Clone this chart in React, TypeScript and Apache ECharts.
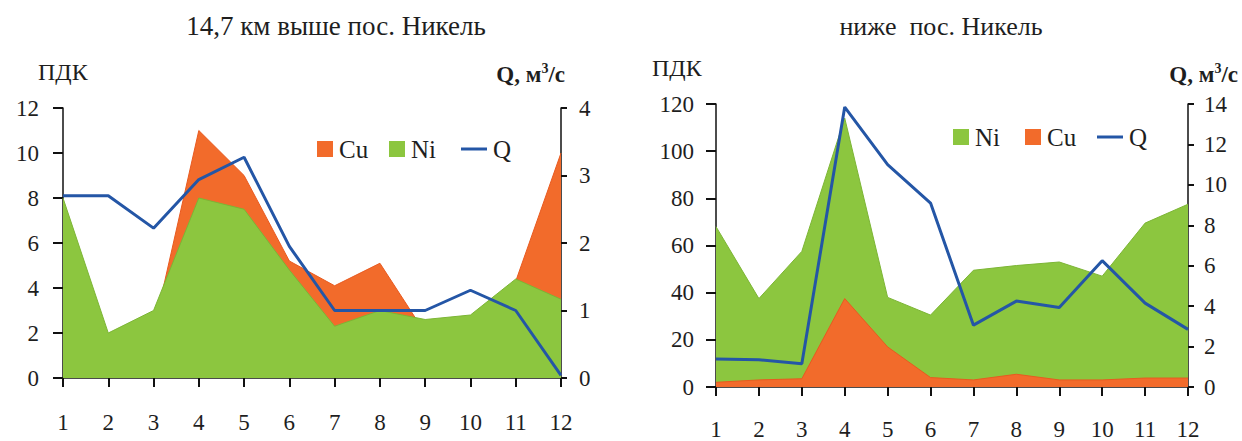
import React, { useEffect, useRef } from "react";
import * as echarts from "echarts";

// Months 1..12
const months = ["1", "2", "3", "4", "5", "6", "7", "8", "9", "10", "11", "12"];

// Station 14.7 km upstream of Nikel (ПДК multiples, discharge Q in m³/s)
const upCu = [1.5, 1.5, 2.1, 11.0, 9.0, 5.2, 4.1, 5.1, 2.0, 2.0, 4.3, 10.0];
const upNi = [8.0, 2.0, 3.0, 8.0, 7.5, 4.8, 2.3, 3.0, 2.6, 2.8, 4.4, 3.5];
const upQ = [2.7, 2.7, 2.22, 2.94, 3.27, 1.95, 1.0, 1.0, 1.0, 1.3, 1.0, 0.04];

// Station downstream of Nikel
const downNi = [68, 37.5, 57.5, 114, 38, 30.5, 49.5, 51.5, 53, 47, 69.5, 77.5];
const downCu = [2, 3, 3.5, 37.5, 17, 4, 3, 5.4, 3, 3, 3.8, 3.8];
const downQ = [1.38, 1.35, 1.15, 13.85, 11.0, 9.1, 3.06, 4.25, 3.93, 6.25, 4.15, 2.85];

const FONT = "Liberation Serif";
const TEXT = "#1e1e1e";
const GREEN = "#8cc63f";
const GREEN_EDGE = "#7cb535";
const ORANGE = "#f26b2b";
const ORANGE_EDGE = "#e85a20";
const BLUE = "#2456a6";

const axisLine = { show: true, lineStyle: { color: "#111", width: 1.5 } };

function xAxis(gridIndex: number, margin: number) {
  return {
    type: "category",
    gridIndex,
    data: months,
    boundaryGap: false,
    axisLine,
    axisTick: { show: true, length: 9, lineStyle: { color: "#111", width: 2 } },
    axisLabel: { fontFamily: FONT, fontSize: 23, color: TEXT, margin, interval: 0 },
    splitLine: { show: false },
  };
}

function yAxis(gridIndex: number, position: string, max: number, interval: number, margin: number, tick: number) {
  return {
    type: "value",
    gridIndex,
    position,
    min: 0,
    max,
    interval,
    axisLine,
    axisTick: { show: true, length: tick, lineStyle: { color: "#111", width: 2 } },
    axisLabel: { fontFamily: FONT, fontSize: 23, color: TEXT, margin, padding: [10, 0, 0, 0] },
    splitLine: { show: false },
  };
}

function area(name: string, data: number[], x: number, y: number, fill: string, edge: string, z: number) {
  return {
    name,
    type: "line",
    xAxisIndex: x,
    yAxisIndex: y,
    data,
    z,
    symbol: "none",
    lineStyle: { color: edge, width: 1 },
    areaStyle: { color: fill, opacity: 1 },
  };
}

function flow(data: number[], x: number, y: number) {
  return {
    name: "Q",
    type: "line",
    xAxisIndex: x,
    yAxisIndex: y,
    data,
    symbol: "none",
    lineStyle: { color: BLUE, width: 3 },
    z: 5,
  };
}

type Item = { kind: "box" | "line"; color: string; label: string };

function legend(x: number, y: number, items: Item[]) {
  const children: any[] = [];
  let cx = x;
  items.forEach((it) => {
    if (it.kind === "box") {
      children.push({ type: "rect", shape: { x: cx, y: y - 8, width: 16, height: 16 }, style: { fill: it.color } });
      cx += 22;
    } else {
      children.push({ type: "line", shape: { x1: cx, y1: y, x2: cx + 26, y2: y }, style: { stroke: it.color, lineWidth: 3 } });
      cx += 32;
    }
    children.push({
      type: "text",
      x: cx,
      y,
      style: { text: it.label, fontFamily: FONT, fontSize: 25, fill: TEXT, verticalAlign: "middle" },
    });
    cx += it.label.length * 13 + 24;
  });
  return { type: "group", children };
}

function label(text: string, x: number, y: number, align: string, size: number, weight = "normal") {
  return {
    type: "text",
    x,
    y,
    style: { text, fontFamily: FONT, fontSize: size, fontWeight: weight, fill: TEXT, align, verticalAlign: "middle" },
  };
}

function unitLabel(x: number, y: number) {
  return {
    type: "text",
    x,
    y,
    style: {
      text: "Q, м{s|3}/с",
      fontFamily: FONT,
      fontSize: 23,
      fontWeight: "bold",
      fill: TEXT,
      align: "right",
      verticalAlign: "middle",
      rich: {
        s: { fontFamily: FONT, fontSize: 14, fontWeight: "bold", fill: TEXT, verticalAlign: "top", padding: [0, 0, 12, 0] },
      },
    },
  };
}

export default function App() {
  const ref = useRef<HTMLDivElement>(null);

  useEffect(() => {
    if (!ref.current) return;
    const chart = echarts.init(ref.current, undefined, { renderer: "svg" });
    chart.setOption({
      animation: false,
      backgroundColor: "#ffffff",
      textStyle: { fontFamily: FONT },
      grid: [
        { left: 63, top: 108, width: 498, height: 270 },
        { left: 716, top: 104, width: 472, height: 283 },
      ],
      xAxis: [xAxis(0, 33), xAxis(1, 31)],
      yAxis: [
        yAxis(0, "left", 12, 2, 24, 10),
        yAxis(0, "right", 4, 1, 18, 6),
        yAxis(1, "left", 120, 20, 22, 10),
        yAxis(1, "right", 14, 2, 16, 6),
      ],
      series: [
        area("Cu", upCu, 0, 0, ORANGE, ORANGE_EDGE, 1),
        area("Ni", upNi, 0, 0, GREEN, GREEN_EDGE, 2),
        flow(upQ, 0, 1),
        area("Ni", downNi, 1, 2, GREEN, GREEN_EDGE, 1),
        area("Cu", downCu, 1, 2, ORANGE, ORANGE_EDGE, 2),
        flow(downQ, 1, 3),
      ],
      graphic: [
        label("14,7 км выше пос. Никель", 336, 26, "center", 27),
        label("ниже  пос. Никель", 941, 26, "center", 26),
        label("ПДК", 38, 72, "left", 24),
        label("ПДК", 652, 68, "left", 24),
        unitLabel(565, 74),
        unitLabel(1238, 74),
        legend(317, 149, [
          { kind: "box", color: ORANGE, label: "Cu" },
          { kind: "box", color: GREEN, label: "Ni" },
          { kind: "line", color: BLUE, label: "Q" },
        ]),
        legend(953, 137, [
          { kind: "box", color: GREEN, label: "Ni" },
          { kind: "box", color: ORANGE, label: "Cu" },
          { kind: "line", color: BLUE, label: "Q" },
        ]),
      ],
    });
    return () => chart.dispose();
  }, []);

  return <div ref={ref} style={{ position: "fixed", left: 0, top: 0, width: 1242, height: 441 }} />;
}
